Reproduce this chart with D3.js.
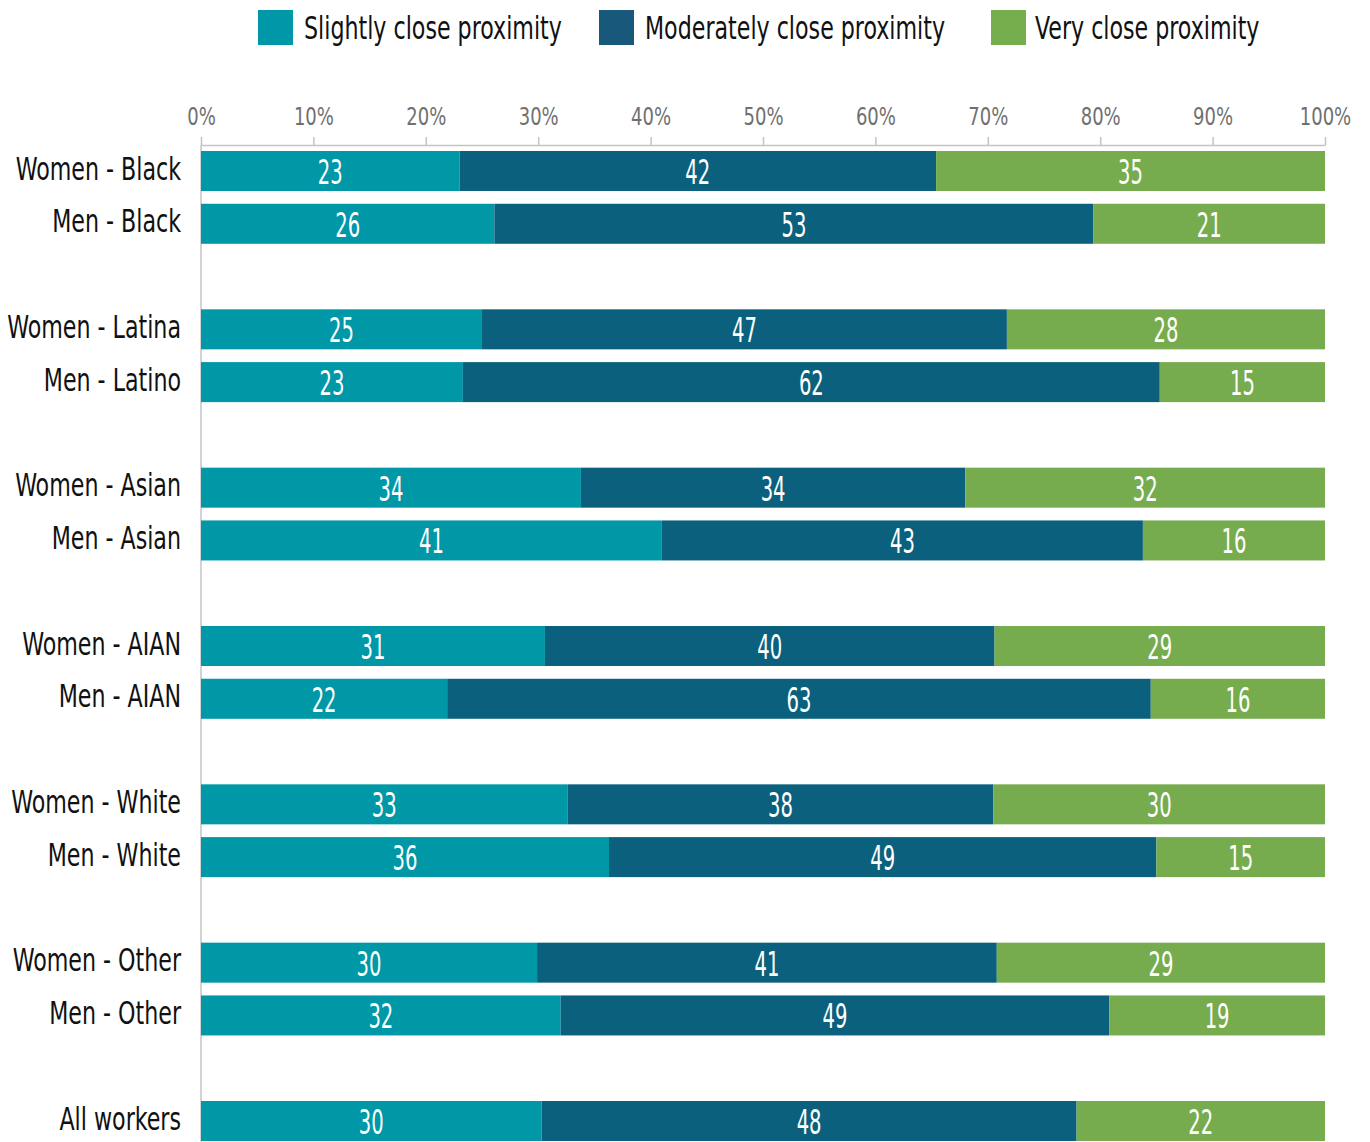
<!DOCTYPE html>
<html>
<head>
<meta charset="utf-8">
<script src="https://cdn.jsdelivr.net/npm/d3@7"></script>
<style>
  body { margin: 0; background: #fff; }
  svg text { font-family: "DejaVu Sans Condensed", "DejaVu Sans", sans-serif; font-stretch: condensed; }
</style>
</head>
<body>
<svg></svg>
<script>
// size of the SVG
var width = 1370;
var height = 1142;

// categories, top to bottom; a spacer row follows the listed indexes
let categories = ["Women - Black", "Men - Black", "Women - Latina", "Men - Latino",
  "Women - Asian", "Men - Asian", "Women - AIAN", "Men - AIAN",
  "Women - White", "Men - White", "Women - Other", "Men - Other", "All workers"];
let gapAfter = [1, 3, 5, 7, 9, 11];

// shares in percent
let slightly   = [23.0, 26.1, 25.0, 23.3, 33.8, 41.0, 30.6, 21.9, 32.6, 36.3, 29.9, 32.0, 30.3];
let moderately = [42.4, 53.3, 46.7, 62.0, 34.2, 42.8, 40.0, 62.6, 37.9, 48.7, 40.9, 48.8, 47.6];
let very       = [34.6, 20.6, 28.3, 14.7, 32.0, 16.2, 29.4, 15.5, 29.5, 15.0, 29.2, 19.2, 22.1];

let seriesNames = ["Slightly close proximity", "Moderately close proximity", "Very close proximity"];
let tickValues = [0, 10, 20, 30, 40, 50, 60, 70, 80, 90, 100];

let barColors = ["#0097a7", "#0b617d", "#77ac4e"];
let legendColors = ["#0098a8", "#17587b", "#76ad4d"];

// build the rows (with spacer rows) and the stack table
let rows = [];
categories.forEach((c, i) => {
  rows.push(c);
  if (gapAfter.includes(i)) rows.push("gap" + i);
});

let table = categories.map((c, i) => ({
  cat: c, s0: slightly[i], s1: moderately[i], s2: very[i]
}));

var svg = d3.select("svg").attr("width", width).attr("height", height);

// squeeze the condensed font a bit more so it looks like the narrow original
function narrow(sel, x, y, sx) {
  sel.attr("transform", (d, i) => "translate(" + x(d, i) + "," + y(d, i) + ") scale(" + sx + ",1)");
}

// scales
let xScale = d3.scaleLinear().domain([0, 100]).range([201, 1325]);
let yScale = d3.scaleBand().domain(rows).range([151, 1141]).paddingInner(0.242);
let color = d3.scaleOrdinal().domain(["s0", "s1", "s2"]).range(barColors);

// top axis
let x_Axis = d3.axisTop(xScale).tickValues(tickValues).tickSize(8).tickSizeOuter(0)
  .tickFormat(d => d + "%");
let gx = svg.append("g").attr("transform", "translate(0,145)").call(x_Axis);
gx.select(".domain").attr("stroke", "#c4c4c4").attr("stroke-width", 1.5);
gx.selectAll(".tick line").attr("stroke", "#c4c4c4").attr("stroke-width", 1.5);
gx.selectAll(".tick text").attr("fill", "#707070").attr("font-size", 25)
  .attr("y", 0).attr("dy", "0.36em")
  .call(narrow, () => 0, () => -29, 0.8);

// vertical baseline
svg.append("line")
  .attr("x1", xScale(0)).attr("x2", xScale(0))
  .attr("y1", 145).attr("y2", height)
  .attr("stroke", "#c4c4c4").attr("stroke-width", 1.5);

// stacked bars
let stacked = d3.stack().keys(["s0", "s1", "s2"])(table);

let layers = svg.append("g").selectAll("g").data(stacked).join("g")
  .attr("fill", d => color(d.key));

layers.selectAll("rect").data(d => d).join("rect")
  .attr("x", d => xScale(d[0]))
  .attr("width", d => xScale(d[1]) - xScale(d[0]))
  .attr("y", d => yScale(d.data.cat))
  .attr("height", yScale.bandwidth());

// value labels
layers.selectAll("text").data(d => d).join("text")
  .attr("dy", "0.36em")
  .attr("text-anchor", "middle")
  .attr("fill", "#fff")
  .attr("font-size", 33)
  .text(d => Math.round(d[1] - d[0]))
  .call(narrow, d => (xScale(d[0]) + xScale(d[1])) / 2,
    d => yScale(d.data.cat) + yScale.bandwidth() / 2 + 1, 0.66);

// category labels
svg.append("g").selectAll("text").data(categories).join("text")
  .attr("dy", "0.36em")
  .attr("text-anchor", "end")
  .attr("fill", "#111")
  .attr("font-size", 32)
  .text(d => d)
  .call(narrow, () => 181, d => yScale(d) + yScale.bandwidth() / 2 - 3, 0.77);

// legend
let legendX = [258, 599, 991];
let legend = svg.append("g").selectAll("g").data(seriesNames).join("g")
  .attr("transform", (d, i) => "translate(" + legendX[i] + ",10)");
legend.append("rect").attr("width", 35).attr("height", 35)
  .attr("fill", (d, i) => legendColors[i]);
legend.append("text").attr("dy", "0.36em")
  .attr("font-size", 32).attr("fill", "#111").text(d => d)
  .call(narrow, (d, i) => i === 2 ? 44 : 46, () => 17, 0.77);
</script>
</body>
</html>
